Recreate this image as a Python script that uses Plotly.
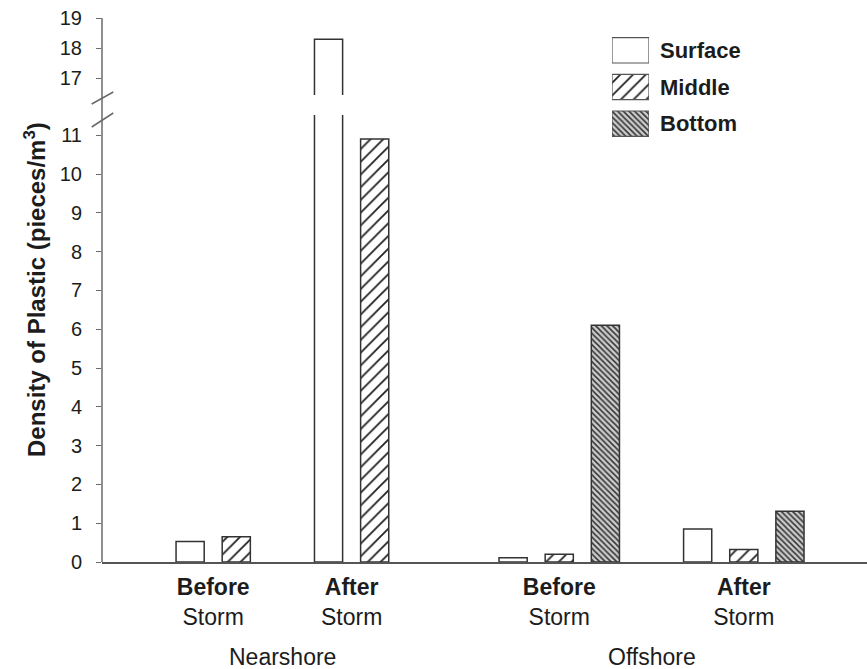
import plotly.graph_objects as go

# ---------------- data ----------------
periods = ["Before", "After", "Before", "After"]
locations = ["Nearshore", "Nearshore", "Offshore", "Offshore"]
series = ["Surface", "Middle", "Bottom"]
surface = [0.53, 18.3, 0.11, 0.85]
middle = [0.65, 10.9, 0.20, 0.32]
bottom = [None, None, 6.1, 1.31]
low_ticks = list(range(0, 12))
high_ticks = [17, 18, 19]
y_title = "Density of Plastic (pieces/m<sup>3</sup>)"

# ---------------- layout constants ----------------
group_x = [1, 4, 8, 12]          # centre slot of each 3-bar group
FONT = "Liberation Sans, Arial, sans-serif"
TXT = "#1c1c1c"
AX = "#6a6a6a"
W, H = 867, 669
ML, MR, MT, MB = 102, 0, 18, 107
PW = W - ML - MR
PH = H - MT - MB
low_dom = [0, (562 - 115) / PH]
high_dom = [(562 - 95) / PH, 1]

styles = {
    "Surface": dict(color="white", pattern=dict(shape="")),
    "Middle": dict(color="white", pattern=dict(shape="/", fgcolor="#222", bgcolor="white",
                                              size=9, solidity=0.2, fillmode="replace")),
    "Bottom": dict(color="#cccccc", pattern=dict(shape="\\", fgcolor="#333333", bgcolor="#cccccc",
                                                size=4, solidity=0.38, fillmode="replace")),
}
values = {"Surface": surface, "Middle": middle, "Bottom": bottom}

fig = go.Figure()
for xa, ya in [("x", "y"), ("x2", "y2")]:
    for s in series:
        st = styles[s]
        fig.add_trace(go.Bar(
            x=group_x, y=values[s], name=s, xaxis=xa, yaxis=ya, showlegend=False,
            offsetgroup=s,
            marker=dict(color=st["color"], pattern=st["pattern"],
                        line=dict(color="#333", width=1.5)),
            hoverinfo="skip"))

# legend drawn as a small panel of patterned swatches (sized like the original)
for s in series:
    st = styles[s]
    fig.add_trace(go.Bar(
        y=[s], x=[1], orientation="h", xaxis="x3", yaxis="y3", name=s,
        showlegend=False, width=0.69, offsetgroup="legend", hoverinfo="skip",
        marker=dict(color=st["color"], pattern=st["pattern"],
                    line=dict(color="#555", width=1.2))))

# x tick positions: centre of bars present in each group
tickvals = []
for g, gx in enumerate(group_x):
    present = [gx + (i - 1) for i, s in enumerate(series) if values[s][g] is not None]
    tickvals.append(sum(present) / len(present))
ticktext = [f"<b>{p}</b><br>Storm" for p in periods]

xrange = [-1.91, 14.67]

fig.update_layout(
    width=W, height=H,
    margin=dict(l=ML, r=MR, t=MT, b=MB, autoexpand=False),
    paper_bgcolor="white", plot_bgcolor="white",
    barmode="group", bargap=0.0, bargroupgap=0.39,
    font=dict(family=FONT, color=TXT),
    showlegend=False,
    xaxis=dict(domain=[0, 1], range=xrange, anchor="y", tickvals=tickvals, ticktext=ticktext,
               ticks="", showline=True, linecolor="#555", linewidth=1.5, showgrid=False,
               zeroline=False, tickfont=dict(size=23, family=FONT, color=TXT),
               ticklabelstandoff=4),
    xaxis2=dict(domain=[0, 1], range=xrange, anchor="y2", matches="x", visible=False),
    yaxis=dict(domain=low_dom, range=[0, (562 - 115) / 38.8], anchor="x", tickvals=low_ticks,
               ticks="outside", ticklen=5, tickcolor=AX, tickwidth=1.2, showline=False,
               showgrid=False, zeroline=False, tickfont=dict(size=20, family=FONT, color=TXT),
               ticklabelstandoff=10),
    yaxis2=dict(domain=high_dom, range=[16.45, 19.0], anchor="x2", tickvals=high_ticks,
                ticks="outside", ticklen=5, tickcolor=AX, tickwidth=1.2, showline=False,
                showgrid=False, zeroline=False, tickfont=dict(size=20, family=FONT, color=TXT),
                ticklabelstandoff=10),
    xaxis3=dict(domain=[(612 - ML) / PW, (649 - ML) / PW], range=[0, 1], anchor="y3",
                visible=False, fixedrange=True),
    yaxis3=dict(domain=[(562 - 142) / PH, (562 - 32) / PH], anchor="x3", side="right",
                categoryorder="array", categoryarray=series, autorange="reversed",
                tickvals=series, ticktext=[f"<b>{s}</b>" for s in series],
                showline=False, showgrid=False, zeroline=False, ticks="",
                tickfont=dict(size=22, family=FONT, color=TXT), ticklabelstandoff=10),
)

# continuous y axis line + break marks
fig.add_shape(type="line", xref="paper", yref="paper", x0=0, x1=0, y0=0, y1=1,
              line=dict(color=AX, width=1.5))
for (px0, py0, px1, py1) in [(91.7, 104, 113.3, 92), (91.7, 127, 113.3, 113)]:
    fig.add_shape(type="line", xref="paper", yref="paper",
                  x0=(px0 - ML) / PW, y0=(562 - py0) / PH,
                  x1=(px1 - ML) / PW, y1=(562 - py1) / PH,
                  line=dict(color=AX, width=1.5))

# location labels under the tick labels
for loc in ["Nearshore", "Offshore"]:
    xs = [tickvals[i] for i, l in enumerate(locations) if l == loc]
    fig.add_annotation(x=sum(xs) / len(xs), xref="x", y=(562 - 657) / PH, yref="paper",
                       xanchor="center", yanchor="middle",
                       text=loc, showarrow=False,
                       font=dict(size=23, family=FONT, color=TXT))

fig.add_annotation(x=(35 - ML) / PW, xref="paper", y=(562 - 290) / PH, yref="paper",
                   xanchor="center", yanchor="middle",
                   text=f"<b>{y_title}</b>", textangle=-90, showarrow=False,
                   font=dict(size=24, family=FONT, color=TXT))

fig.write_html(
    "out.html",
    config={"displayModeBar": False},
    post_script="document.body.style.margin='0';document.body.style.overflow='hidden';",
)
